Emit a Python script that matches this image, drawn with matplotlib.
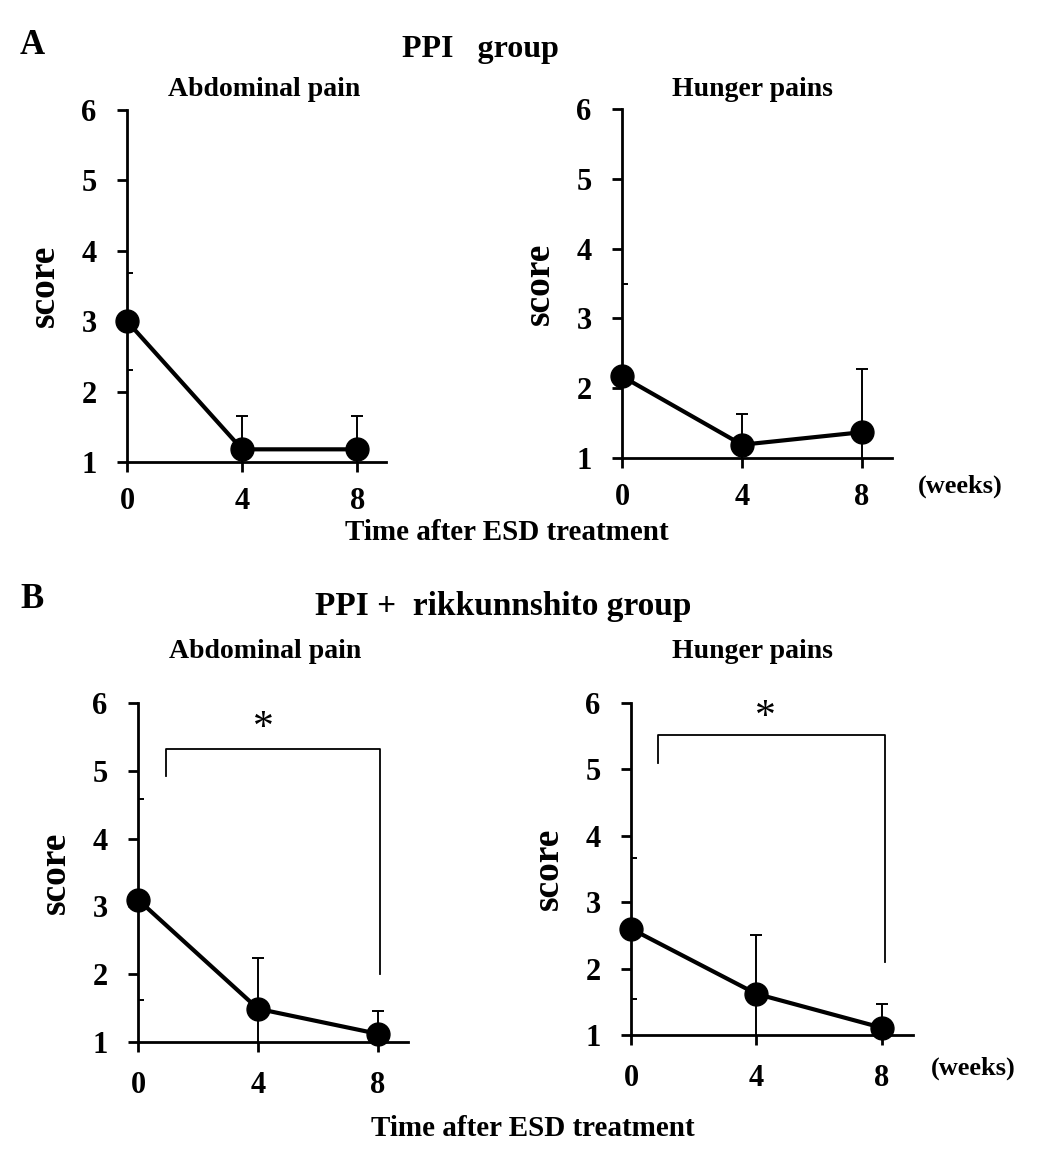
import matplotlib
matplotlib.use("Agg")
import matplotlib.pyplot as plt

plt.rcParams['font.family'] = ['Liberation Serif', 'DejaVu Serif']
plt.rcParams['font.weight'] = 'bold'

weeks = [0, 4, 8]
ticks_x = [0, 4, 8]
ticks_y = [1, 2, 3, 4, 5, 6]

# PPI group
a_abd = [3.0, 1.18, 1.18]
a_abd_sd = [0.69, 0.47, 0.47]
a_hun = [2.17, 1.19, 1.37]
a_hun_sd = [1.32, 0.44, 0.90]

# PPI + rikkunnshito group
b_abd = [3.1, 1.49, 1.12]
b_abd_sd = [1.48, 0.75, 0.33]
b_hun = [2.6, 1.62, 1.11]
b_hun_sd = [1.06, 0.89, 0.36]

W, H = 1042, 1155
fig = plt.figure(figsize=(W / 100, H / 100), dpi=100)


def px_axes(x0, x1, ytop, ybot):
    return fig.add_axes([x0 / W, 1 - ybot / H, (x1 - x0) / W, (ybot - ytop) / H])


def panel(ax, y, sd, xpad, sig=None):
    ax.errorbar(weeks, y, yerr=sd, fmt='none', ecolor='black', elinewidth=1.4,
                capsize=4, capthick=1.4, zorder=2)
    ax.plot(weeks, y, color='black', lw=3.0, marker='o', ms=16.5,
            clip_on=False, zorder=4)
    ax.set_xlim(0, 9)
    ax.set_ylim(1, 6)
    ax.set_xticks(ticks_x)
    ax.set_yticks(ticks_y)
    for s in ['top', 'right']:
        ax.spines[s].set_visible(False)
    for s in ['left', 'bottom']:
        ax.spines[s].set_linewidth(2.0)
    ax.tick_params(direction='out', length=7, width=2.0, labelsize=22)
    ax.tick_params(axis='y', pad=15)
    ax.tick_params(axis='x', pad=xpad)
    ax.set_ylabel('score', fontsize=27, fontweight='bold', labelpad=14)
    if sig is not None:
        x0, x1, ylo, yhi, ylo2, xs, ys = sig
        ax.plot([x0, x0, x1, x1], [ylo, yhi, yhi, ylo2], color='black', lw=1.3,
                clip_on=False)
        ax.text(xs, ys, '*', fontsize=30, ha='center', va='center',
                fontweight='normal')


ax1 = px_axes(127, 386, 110, 462)
panel(ax1, a_abd, a_abd_sd, 11)
ax2 = px_axes(622, 892, 109, 458)
panel(ax2, a_hun, a_hun_sd, 11)
ax3 = px_axes(138, 408, 703, 1042)
panel(ax3, b_abd, b_abd_sd, 14, sig=(0.93, 8.07, 4.92, 5.32, 2.0, 4.18, 5.62))
ax4 = px_axes(631, 913, 703, 1035)
panel(ax4, b_hun, b_hun_sd, 14, sig=(0.86, 8.1, 5.1, 5.52, 2.1, 4.3, 5.78))


def ftext(x, y, s, size, ha='center'):
    fig.text(x / W, 1 - y / H, s, fontsize=size, ha=ha, va='center', fontweight='bold')


ftext(20, 46, 'A', 25, ha='left')
ftext(480, 50, 'PPI   group', 23)
ftext(264, 90, 'Abdominal pain', 20)
ftext(752, 90, 'Hunger pains', 20)
ftext(960, 486, '(weeks)', 19)
ftext(507, 533, 'Time after ESD treatment', 21)

ftext(20, 600, 'B', 25, ha='left')
ftext(503, 607, 'PPI +  rikkunnshito group', 24)
ftext(265, 652, 'Abdominal pain', 20)
ftext(752, 652, 'Hunger pains', 20)
ftext(973, 1068, '(weeks)', 19)
ftext(533, 1128, 'Time after ESD treatment', 21)

fig.savefig('out.png', dpi=100)
